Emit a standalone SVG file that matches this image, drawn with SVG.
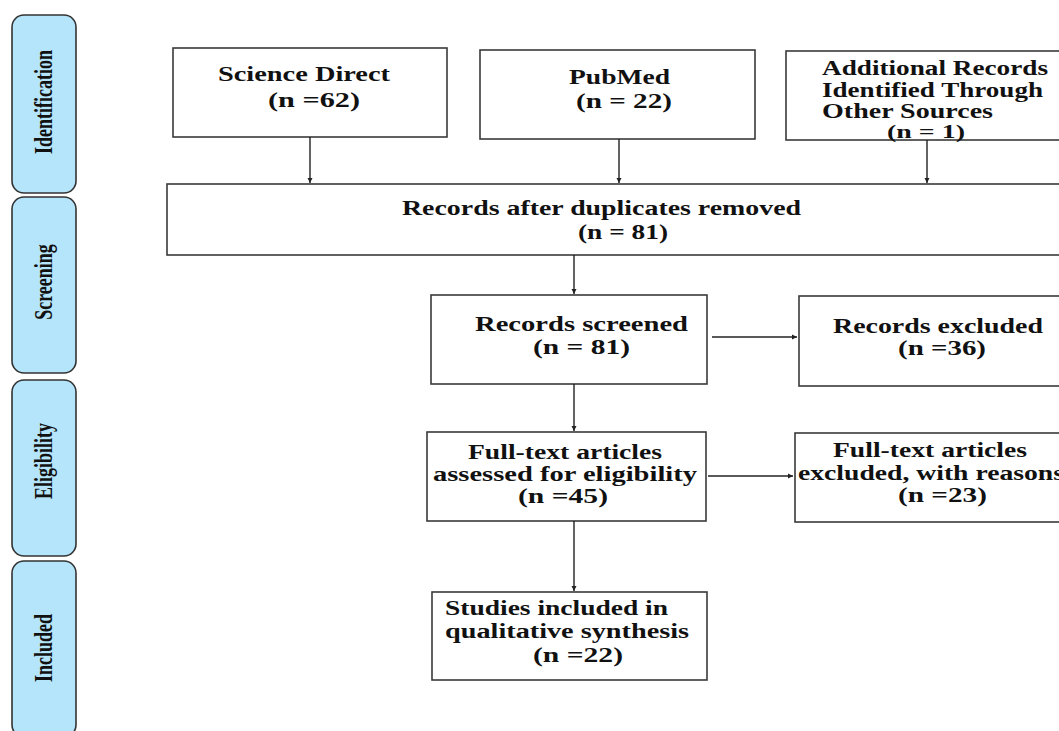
<svg xmlns="http://www.w3.org/2000/svg" width="1059" height="731" viewBox="0 0 1059 731">
<style>
.tab{fill:#b5e5fb;stroke:#333;stroke-width:1.6}
.box{fill:#fff;stroke:#3a3a3a;stroke-width:1.6}
.t{font-family:"Liberation Serif","Times New Roman",serif;font-weight:bold;font-size:20.5px;fill:#111}
.tt{font-family:"Liberation Serif","Times New Roman",serif;font-weight:bold;font-size:18px;fill:#111;text-anchor:middle}
.c{stroke:#222;stroke-width:1.4;fill:none;marker-end:url(#ah)}
</style>
<defs>
<marker id="ah" markerUnits="userSpaceOnUse" markerWidth="6" markerHeight="6" refX="5" refY="3" orient="auto">
<path d="M0,0.5 L5,3 L0,5.5 Z" fill="#222"/>
</marker>
</defs>
<rect width="1059" height="731" fill="#fff"/>

<g id="tab-identification">
<rect class="tab" x="12" y="15" width="64" height="178" rx="12"/>
<text class="tt" transform="translate(52,102) rotate(-90) scale(1,1.4)" x="0" y="0">Identification</text>
</g>
<g id="tab-screening">
<rect class="tab" x="12" y="197" width="64" height="176" rx="12"/>
<text class="tt" transform="translate(52,282) rotate(-90) scale(1,1.4)" x="0" y="0">Screening</text>
</g>
<g id="tab-eligibility">
<rect class="tab" x="12" y="380" width="64" height="176" rx="12"/>
<text class="tt" transform="translate(52,461) rotate(-90) scale(1,1.4)" x="0" y="0">Eligibility</text>
</g>
<g id="tab-included">
<rect class="tab" x="12" y="561" width="64" height="176" rx="12"/>
<text class="tt" transform="translate(52,648) rotate(-90) scale(1,1.4)" x="0" y="0">Included</text>
</g>

<g id="science-direct">
<rect class="box" x="173" y="48" width="274" height="89"/>
<text class="t" x="218" y="81" textLength="172" lengthAdjust="spacingAndGlyphs">Science Direct</text>
<text class="t" x="268" y="107" textLength="92" lengthAdjust="spacingAndGlyphs">(n =62)</text>
</g>
<g id="pubmed">
<rect class="box" x="480" y="50" width="275" height="89"/>
<text class="t" x="569" y="84" textLength="101" lengthAdjust="spacingAndGlyphs">PubMed</text>
<text class="t" x="576" y="108" textLength="96" lengthAdjust="spacingAndGlyphs">(n = 22)</text>
</g>
<g id="additional">
<rect class="box" x="786" y="51" width="300" height="89"/>
<text class="t" x="822" y="75" textLength="226" lengthAdjust="spacingAndGlyphs">Additional Records</text>
<text class="t" x="822" y="97" textLength="221" lengthAdjust="spacingAndGlyphs">Identified Through</text>
<text class="t" x="822" y="118" textLength="171" lengthAdjust="spacingAndGlyphs">Other Sources</text>
<text class="t" x="887" y="138" textLength="78" lengthAdjust="spacingAndGlyphs" style="font-size:19px">(n = 1)</text>
</g>
<g id="duplicates">
<rect class="box" x="167" y="184" width="910" height="71"/>
<text class="t" x="402" y="215" textLength="399" lengthAdjust="spacingAndGlyphs">Records after duplicates removed</text>
<text class="t" x="578" y="239" textLength="90" lengthAdjust="spacingAndGlyphs">(n = 81)</text>
</g>
<g id="screened">
<rect class="box" x="431" y="295" width="276" height="89"/>
<text class="t" x="475" y="331" textLength="213" lengthAdjust="spacingAndGlyphs">Records screened</text>
<text class="t" x="533" y="354" textLength="97" lengthAdjust="spacingAndGlyphs">(n =  81)</text>
</g>
<g id="excluded">
<rect class="box" x="799" y="296" width="280" height="90"/>
<text class="t" x="833" y="333" textLength="210" lengthAdjust="spacingAndGlyphs">Records excluded</text>
<text class="t" x="898" y="355" textLength="88" lengthAdjust="spacingAndGlyphs">(n =36)</text>
</g>
<g id="fulltext">
<rect class="box" x="427" y="432" width="279" height="89"/>
<text class="t" x="468" y="459" textLength="194" lengthAdjust="spacingAndGlyphs">Full-text articles</text>
<text class="t" x="433" y="481" textLength="264" lengthAdjust="spacingAndGlyphs">assessed for eligibility</text>
<text class="t" x="518" y="503" textLength="90" lengthAdjust="spacingAndGlyphs">(n =45)</text>
</g>
<g id="fulltext-excluded">
<rect class="box" x="795" y="433" width="284" height="89"/>
<text class="t" x="833" y="457" textLength="194" lengthAdjust="spacingAndGlyphs">Full-text articles</text>
<text class="t" x="798" y="480" textLength="266" lengthAdjust="spacingAndGlyphs">excluded, with reasons</text>
<text class="t" x="898" y="502" textLength="89" lengthAdjust="spacingAndGlyphs">(n =23)</text>
</g>
<g id="included">
<rect class="box" x="432" y="592" width="275" height="88"/>
<text class="t" x="445" y="615" textLength="223" lengthAdjust="spacingAndGlyphs">Studies included in</text>
<text class="t" x="445" y="638" textLength="244" lengthAdjust="spacingAndGlyphs">qualitative synthesis</text>
<text class="t" x="533" y="662" textLength="90" lengthAdjust="spacingAndGlyphs">(n =22)</text>
</g>

<g id="connectors">
<line class="c" x1="310" y1="137" x2="310" y2="183"/>
<line class="c" x1="619" y1="139" x2="619" y2="183"/>
<line class="c" x1="927" y1="140" x2="927" y2="183"/>
<line class="c" x1="574" y1="255" x2="574" y2="294"/>
<line class="c" x1="712" y1="337" x2="797" y2="337"/>
<line class="c" x1="574" y1="384" x2="574" y2="431"/>
<line class="c" x1="708" y1="476" x2="793" y2="476"/>
<line class="c" x1="574" y1="521" x2="574" y2="591"/>
</g>
</svg>
